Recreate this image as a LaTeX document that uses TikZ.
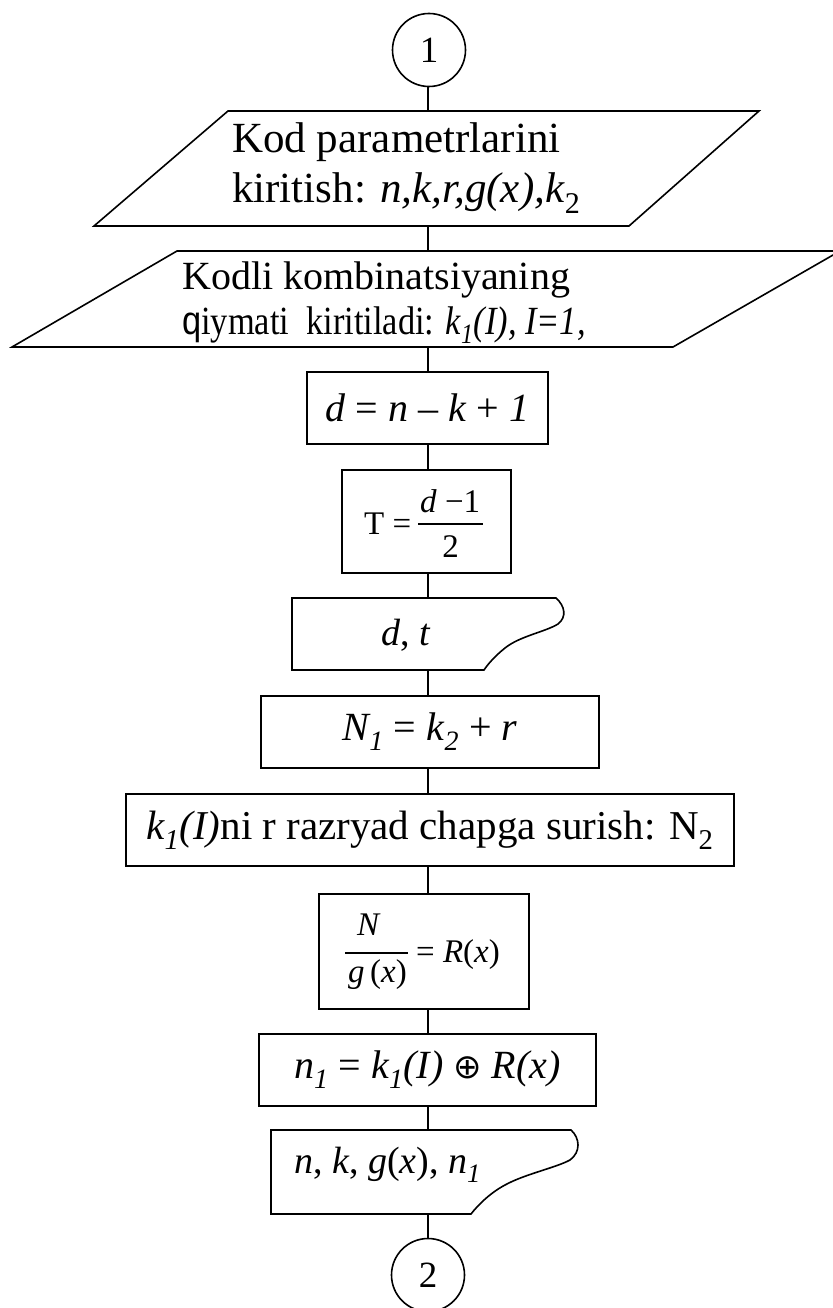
\documentclass[tikz,border=0pt]{standalone}
\usepackage{graphicx}
\usepackage{fontspec}
\setmainfont{Liberation Serif}
\newfontfamily\sanf{Liberation Sans}
\newfontfamily\djv{DejaVu Sans}
\begin{document}
\begin{tikzpicture}[x=1pt,y=-1pt,
  ln/.style={line width=1.6pt},
  procbox/.style={draw,line width=1.6pt,inner sep=0pt,font=\fontsize{40}{46}\selectfont},
  conn/.style={draw,circle,line width=1.6pt,minimum size=73pt,inner sep=0pt,font=\fontsize{37}{40}\selectfont},
  txt/.style={inner sep=0pt,anchor=base west,font=\fontsize{40}{46}\selectfont},
  frm/.style={inner sep=0pt,anchor=base,font=\fontsize{33}{36}\selectfont},
  fbar/.style={line width=1.3pt}]
\useasboundingbox (0,0) rectangle (832,1308);
% connector 1
\node[conn] (c1) at (429,50) {1};
% parallelogram 1
\draw[ln] (228,111) -- (759,111) -- (629,226) -- (94,226) -- cycle;
\coordinate (p1t) at (428,111);
\coordinate (p1b) at (428,226);
\node[txt,font=\fontsize{43}{48}\selectfont] (p1l1) at (232,153) {Kod parametrlarini};
\node[txt,font=\fontsize{43}{48}\selectfont] (p1l2) at (232,202) {kiritish: \textit{n,k,r,g(x),k}\textsubscript{2}};
% parallelogram 2
\draw[ln] (177,251) -- (840,251) -- (673,347) -- (12,347) -- cycle;
\coordinate (p2t) at (428,251);
\coordinate (p2b) at (428,347);
\node[txt] (p2l1) at (182,289) {Kodli kombinatsiyaning};
\node[txt] (p2l2) at (182,334)
  {\scalebox{0.86}[1]{{\sanf q}iymati\ \ kiritiladi: \textit{k\textsubscript{1}(I), I=1,}}};
% box d
\node[procbox,minimum width=241pt,minimum height=72pt] (bd) at (427.5,408)
  {\textit{d} = \textit{n} – \textit{k} + \textit{1}};
% box T
\node[procbox,minimum width=169pt,minimum height=103pt] (bT) at (426.5,521.5) {};
\node[frm,anchor=base west] (Tl) at (364,534) {T =};
\node[frm,anchor=base west] (Tn) at (420,512) {\textit{d} −1};
\node[frm] (Td) at (450.5,557) {2};
\draw[fbar] (418,524) -- (483,524);
% display 1
\draw[ln] (292,598) -- (556,598) .. controls (565,606) and (567,617) .. (558,624)
  .. controls (545,632) and (520,636) .. (505,648)
  .. controls (495,656) and (488,664) .. (484,670) -- (292,670) -- cycle;
\coordinate (dtT) at (428,598);
\coordinate (dtB) at (428,670);
\node[txt,font=\fontsize{38}{44}\selectfont] (dtx) at (381,645) {\textit{d}, \textit{t}};
% box N1
\node[procbox,minimum width=338pt,minimum height=72pt] (bN1) at (430,732)
  {\textit{N\textsubscript{1}} = \textit{k}\textsubscript{\textit{2}} + \textit{r}};
% box k1
\node[procbox,minimum width=608pt,minimum height=72pt,font=\fontsize{41}{46}\selectfont] (bk1) at (430,830)
  {\textit{k\textsubscript{1}(I)}ni r razryad chapga surish: N\textsubscript{2}};
% box N/g
\node[procbox,minimum width=210pt,minimum height=115pt] (bNg) at (424,951.5) {};
\node[frm] (Nn) at (369,935) {\textit{N}};
\draw[fbar] (345,953) -- (408,953);
\node[frm] (Nd) at (377.5,982) {\textit{g}\,(\textit{x})};
\node[frm,anchor=base west] (Nr) at (416,962) {= \textit{R}(\textit{x})};
% box n1
\node[procbox,minimum width=337pt,minimum height=72pt] (bn1) at (427.5,1070)
  {\textit{n\textsubscript{1}} = \textit{k\textsubscript{1}(I)} {\djv\fontsize{34}{36}\selectfont ⊕} \textit{R(x)}};
% display 2
\draw[ln] (271,1130) -- (571,1130) .. controls (580,1138) and (581,1152) .. (570,1160)
  .. controls (555,1168) and (525,1174) .. (505,1185)
  .. controls (490,1193) and (478,1205) .. (471,1214) -- (271,1214) -- cycle;
\coordinate (d2T) at (428,1130);
\coordinate (d2B) at (428,1214);
\node[txt,font=\fontsize{38}{44}\selectfont] (d2x) at (294,1173) {\textit{n}, \textit{k}, \textit{g}(\textit{x}), \textit{n\textsubscript{1}}};
\node[conn] (c2) at (428,1275) {2};
% connectors
\draw[ln] (c1.south -| p1t) -- (p1t);
\draw[ln] (p1b) -- (p2t);
\draw[ln] (p2b) -- (bd.north -| p2b);
\draw[ln] (bd.south -| dtB) -- (bT.north -| dtB);
\draw[ln] (bT.south -| dtB) -- (dtT);
\draw[ln] (dtB) -- (bN1.north -| dtB);
\draw[ln] (bN1.south -| dtB) -- (bk1.north -| dtB);
\draw[ln] (bk1.south -| dtB) -- (bNg.north -| dtB);
\draw[ln] (bNg.south -| dtB) -- (bn1.north -| dtB);
\draw[ln] (bn1.south -| dtB) -- (d2T);
\draw[ln] (d2B) -- (c2.north);
\end{tikzpicture}
\end{document}
